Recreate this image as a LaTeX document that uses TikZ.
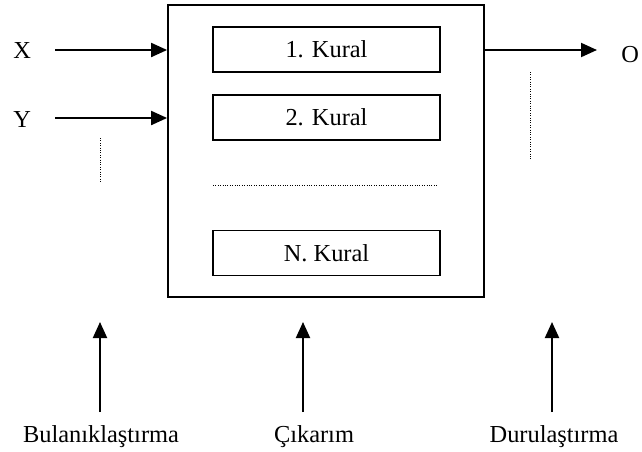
\documentclass[tikz,border=0pt]{standalone}
\usepackage{fontspec}
\setmainfont{Liberation Serif}
\usetikzlibrary{arrows.meta,positioning}

\tikzset{
  kuralbox/.style={draw, line width=0.8pt, minimum width=113.5pt, minimum height=22.5pt,
                   inner sep=0pt, font=\fontsize{12.2}{14}\selectfont},
  lbl/.style={inner sep=0pt, font=\fontsize{12.2}{14}\selectfont},
  arr/.style={line width=1pt, -{Triangle[length=8pt,width=7pt]}},
  dots/.style={line width=0.5pt, dash pattern=on 0.5pt off 0.7pt}
}

\begin{document}
\begin{tikzpicture}[x=0.5pt, y=-0.5pt]
    \useasboundingbox (0,0) rectangle (642,451);

    % inference block with the rules
    \node[draw, line width=0.9pt, minimum width=158pt, minimum height=146pt, inner sep=0pt] (box) at (326,151) {};
    \node[kuralbox] (k1) at (326.5,49.5) {1. Kural};
    \node[kuralbox] (k2) at (326.5,117.5) {2. Kural};
    \node[kuralbox] (kn) at (326.5,253) {N. Kural};
    \coordinate (hd1) at (213,185);
    \coordinate (hd2) at (437,185);
    \draw[dots] (hd1) -- (hd2);

    % inputs
    \node[lbl, anchor=base west] (xin) at (13,58) {X};
    \node[lbl, anchor=base west] (yin) at (13,127) {Y};
    \coordinate (xs) at (55,50);
    \coordinate (ys) at (55,118);
    \draw[arr] (xs) -- (xs -| box.west);
    \draw[arr] (ys) -- (ys -| box.west);
    \coordinate (ld1) at (100,138);
    \coordinate (ld2) at (100,183);
    \draw[dots] (ld1) -- (ld2);

    % output
    \node[lbl, anchor=base west] (out) at (621,62) {O};
    \coordinate (oe) at (597,50);
    \draw[arr] (oe -| box.east) -- (oe);
    \coordinate (rd1) at (530,72);
    \coordinate (rd2) at (530,160);
    \draw[dots] (rd1) -- (rd2);

    % stages
    \node[lbl, anchor=base] (bul) at (101,442) {Bulanıklaştırma};
    \node[lbl, anchor=base] (cik) at (314,442) {Çıkarım};
    \node[lbl, anchor=base] (dur) at (554,442) {Durulaştırma};
    \coordinate (bt) at (100,322);
    \coordinate (ct) at (303,322);
    \coordinate (dt) at (552,322);
    \draw[arr] (bt |- 0,412) -- (bt);
    \draw[arr] (ct |- 0,412) -- (ct);
    \draw[arr] (dt |- 0,412) -- (dt);
\end{tikzpicture}
\end{document}
